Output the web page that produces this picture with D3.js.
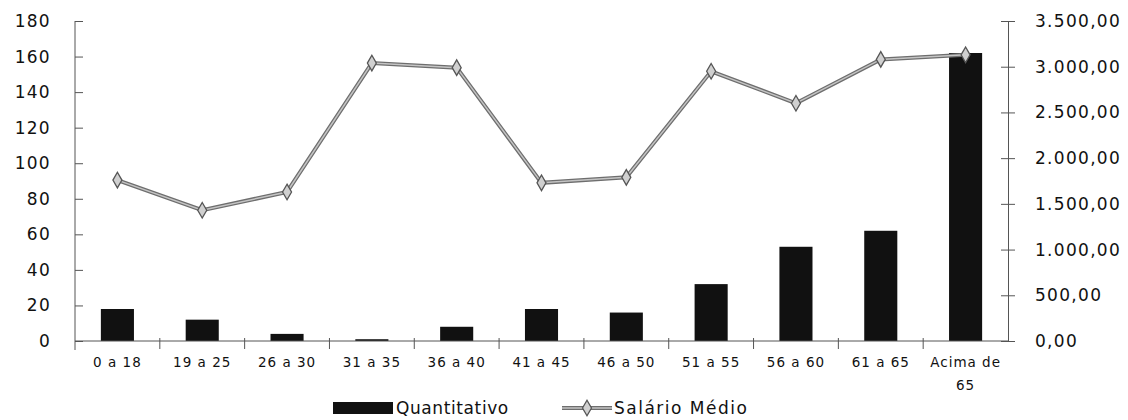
<!DOCTYPE html>
<html>
<head>
<meta charset="utf-8">
<script src="https://cdn.jsdelivr.net/npm/d3@7"></script>
<style>
  body { margin: 0; background: #fff; }
  text { font-family: "DejaVu Sans", sans-serif; fill: #111; }
</style>
</head>
<body>
<div id="chart"></div>
<script>
var categories = ["0 a 18", "19 a 25", "26 a 30", "31 a 35", "36 a 40", "41 a 45",
  "46 a 50", "51 a 55", "56 a 60", "61 a 65", "Acima de 65"];
var quantitativo = [18, 12, 4, 1, 8, 18, 16, 32, 53, 62, 162];
var salarioMedio = [1760, 1430, 1630, 3040, 2990, 1730, 1790, 2950, 2600, 3080, 3130];
var leftTicks = [0, 20, 40, 60, 80, 100, 120, 140, 160, 180];
var rightTicks = [0, 500, 1000, 1500, 2000, 2500, 3000, 3500];

var svgWidth = 1128;
var svgHeight = 420;
var margin = { top: 21, right: 120, bottom: 79, left: 75 };
var width = svgWidth - margin.left - margin.right;
var height = svgHeight - margin.top - margin.bottom;

var svg = d3.select("#chart").append("svg")
  .attr("width", svgWidth)
  .attr("height", svgHeight);

var chartGroup = svg.append("g")
  .attr("transform", `translate(${margin.left}, ${margin.top})`);

var xScale = d3.scaleBand()
  .domain(categories)
  .range([0, width])
  .paddingInner(0.61)
  .paddingOuter(0.305);

var yLeft = d3.scaleLinear().domain([0, 180]).range([height, 0]);
var yRight = d3.scaleLinear().domain([0, 3500]).range([height, 0]);

var br = d3.formatLocale({ decimal: ",", thousands: ".", grouping: [3], currency: ["R$", ""] });
var fmtRight = br.format(",.2f");

// bars
chartGroup.selectAll("rect.bar").data(quantitativo).enter()
  .append("rect")
  .attr("class", "bar")
  .attr("x", (d, i) => xScale(categories[i]))
  .attr("width", xScale.bandwidth())
  .attr("y", d => yLeft(d))
  .attr("height", d => height - yLeft(d))
  .attr("fill", "#111");

// left axis
var leftAxis = d3.axisLeft(yLeft).tickValues(leftTicks).tickSizeInner(10).tickSizeOuter(0).tickPadding(14);
var gl = chartGroup.append("g").call(leftAxis);
gl.selectAll(".tick line").attr("x2", 8);
gl.select(".domain").attr("d", `M0,0V${height + 9}`);

// right axis
var rightAxis = d3.axisRight(yRight).tickValues(rightTicks).tickFormat(fmtRight)
  .tickSizeInner(7).tickSizeOuter(0).tickPadding(20);
var gr = chartGroup.append("g").attr("transform", `translate(${width},0)`).call(rightAxis);
gr.selectAll(".tick line").attr("x1", -7);

// bottom axis, ticks sit between categories
var step = xScale.step();
var gap = step - xScale.bandwidth();
var bottom = chartGroup.append("g").attr("transform", `translate(0,${height})`);
bottom.append("line").attr("x1", 0).attr("x2", width).attr("stroke", "#555");
bottom.selectAll("line.sep").data(categories.slice(1)).enter()
  .append("line")
  .attr("class", "sep")
  .attr("x1", d => xScale(d) - gap / 2)
  .attr("x2", d => xScale(d) - gap / 2)
  .attr("y1", -3).attr("y2", 8)
  .attr("stroke", "#555");

var xl = bottom.selectAll("text.xl").data(categories).enter()
  .append("text")
  .attr("class", "xl")
  .attr("text-anchor", "middle")
  .attr("font-size", 13.5)
  .attr("letter-spacing", 1)
  .attr("transform", d => `translate(${xScale(d) + xScale.bandwidth() / 2},26)`);
xl.each(function(d) {
  var t = d3.select(this);
  var parts = d === "Acima de 65" ? ["Acima de", "65"] : [d];
  parts.forEach((p, j) => t.append("tspan").attr("x", 0).attr("dy", j ? 23 : 0).text(p));
});

[gl, gr].forEach(g => {
  g.selectAll("line, path").attr("stroke", "#555");
  g.selectAll("text").attr("font-size", 17).attr("letter-spacing", 1.3).attr("fill", "#111");
});

// line series
var line = d3.line()
  .x((d, i) => xScale(categories[i]) + xScale.bandwidth() / 2)
  .y(d => yRight(d));

chartGroup.append("path").datum(salarioMedio)
  .attr("d", line).attr("fill", "none").attr("stroke", "#6e6e6e").attr("stroke-width", 4);
chartGroup.append("path").datum(salarioMedio)
  .attr("d", line).attr("fill", "none").attr("stroke", "#c4c4c4").attr("stroke-width", 1.5);

var diamond = d3.symbol().type(d3.symbolDiamond).size(70);
chartGroup.selectAll("path.mk").data(salarioMedio).enter()
  .append("path")
  .attr("class", "mk")
  .attr("d", diamond)
  .attr("transform", (d, i) => `translate(${xScale(categories[i]) + xScale.bandwidth() / 2},${yRight(d)})`)
  .attr("fill", "#d0d0d0")
  .attr("stroke", "#555")
  .attr("stroke-width", 1.3);

// legend
var legend = svg.append("g").attr("transform", "translate(0,408)");
legend.append("rect").attr("x", 333).attr("y", -6).attr("width", 60).attr("height", 12).attr("fill", "#111");
legend.append("text").attr("x", 396).attr("y", 6).attr("font-size", 17).attr("letter-spacing", 0.6).text("Quantitativo");
legend.append("line").attr("x1", 562).attr("x2", 612).attr("y1", 0).attr("y2", 0)
  .attr("stroke", "#6e6e6e").attr("stroke-width", 4);
legend.append("line").attr("x1", 562).attr("x2", 612).attr("y1", 0).attr("y2", 0)
  .attr("stroke", "#c4c4c4").attr("stroke-width", 1.5);
legend.append("path").attr("d", diamond).attr("transform", "translate(587,0)")
  .attr("fill", "#d0d0d0").attr("stroke", "#555").attr("stroke-width", 1.3);
legend.append("text").attr("x", 614).attr("y", 6).attr("font-size", 17).attr("letter-spacing", 1.5).text("Salário Médio");
</script>
</body>
</html>
